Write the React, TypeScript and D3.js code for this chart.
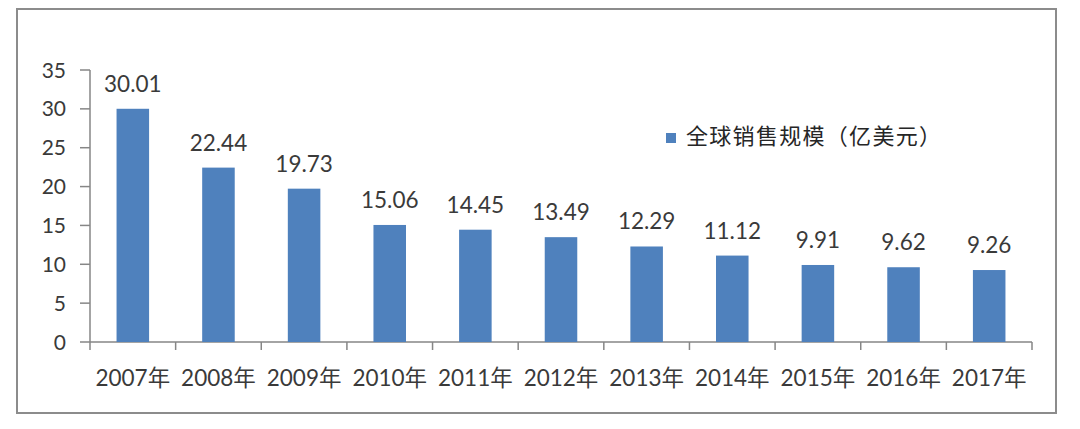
import React from "react";
import * as d3 from "d3";

const categories = ["2007年", "2008年", "2009年", "2010年", "2011年", "2012年", "2013年", "2014年", "2015年", "2016年", "2017年"];
const values = [30.01, 22.44, 19.73, 15.06, 14.45, 13.49, 12.29, 11.12, 9.91, 9.62, 9.26];
const yTicks = [0, 5, 10, 15, 20, 25, 30, 35];
const seriesName = "全球销售规模（亿美元）";

const W = 1080;
const H = 429;
const axisColor = "#868686";
const textColor = "#3a3a3a";
const barColor = "#4f81bd";
const latin = "Lato, 'Noto Sans', sans-serif";
const cjk = "Lato, 'Noto Sans CJK SC', sans-serif";

export default function App() {
  const x = d3.scaleBand<string>().domain(categories).range([90, 1032]).paddingInner(0.62).paddingOuter(0.31);
  const y = d3.scaleLinear().domain([0, 35]).range([342, 70]);
  const step = x.step();
  const x0 = x.range()[0];
  const tickXs = d3.range(categories.length + 1).map((i) => x0 + i * step);

  return (
    <svg width={W} height={H} style={{ position: "absolute", left: 0, top: 0, background: "#fff" }}>
      <rect x={0} y={0} width={W} height={H} fill="#fff" />
      <rect x={17} y={9} width={1039} height={404} fill="#fff" stroke="#8c8c8c" strokeWidth={2} />
      {/* y axis */}
      <line x1={90} x2={90} y1={y(35)} y2={y(0)} stroke={axisColor} strokeWidth={1.5} />
      {yTicks.map((t) => (
        <g key={t}>
          <line x1={80} x2={90} y1={y(t)} y2={y(t)} stroke={axisColor} strokeWidth={1.5} />
          <text x={66} y={y(t)} dy="0.36em" textAnchor="end" fontFamily={latin} fontSize={21} fill={textColor}>
            {t}
          </text>
        </g>
      ))}
      {/* x axis */}
      <line x1={x0} x2={x0 + categories.length * step} y1={y(0)} y2={y(0)} stroke={axisColor} strokeWidth={1.5} />
      {tickXs.map((tx, i) => (
        <line key={i} x1={tx} x2={tx} y1={y(0)} y2={y(0) + 8} stroke={axisColor} strokeWidth={1.5} />
      ))}
      {categories.map((c) => (
        <text key={c} x={(x(c) as number) + x.bandwidth() / 2} y={386} textAnchor="middle" fontFamily={cjk} fontSize={22.5} fill={textColor}>
          {c}
        </text>
      ))}
      {/* bars */}
      {values.map((v, i) => {
        const c = categories[i];
        const bx = x(c) as number;
        return (
          <g key={c}>
            <rect x={bx} y={y(v)} width={x.bandwidth()} height={y(0) - y(v)} fill={barColor} />
            <text x={bx + x.bandwidth() / 2} y={y(v) - 17} textAnchor="middle" fontFamily={latin} fontSize={22.5} fill={textColor}>
              {v.toFixed(2)}
            </text>
          </g>
        );
      })}
      {/* legend */}
      <rect x={666} y={133} width={10} height={10} fill={barColor} />
      <text x={686} y={136} dy="0.36em" fontFamily="'Noto Sans CJK SC', sans-serif" fontSize={22} letterSpacing={1.3} fill="#262626">
        {seriesName}
      </text>
    </svg>
  );
}
